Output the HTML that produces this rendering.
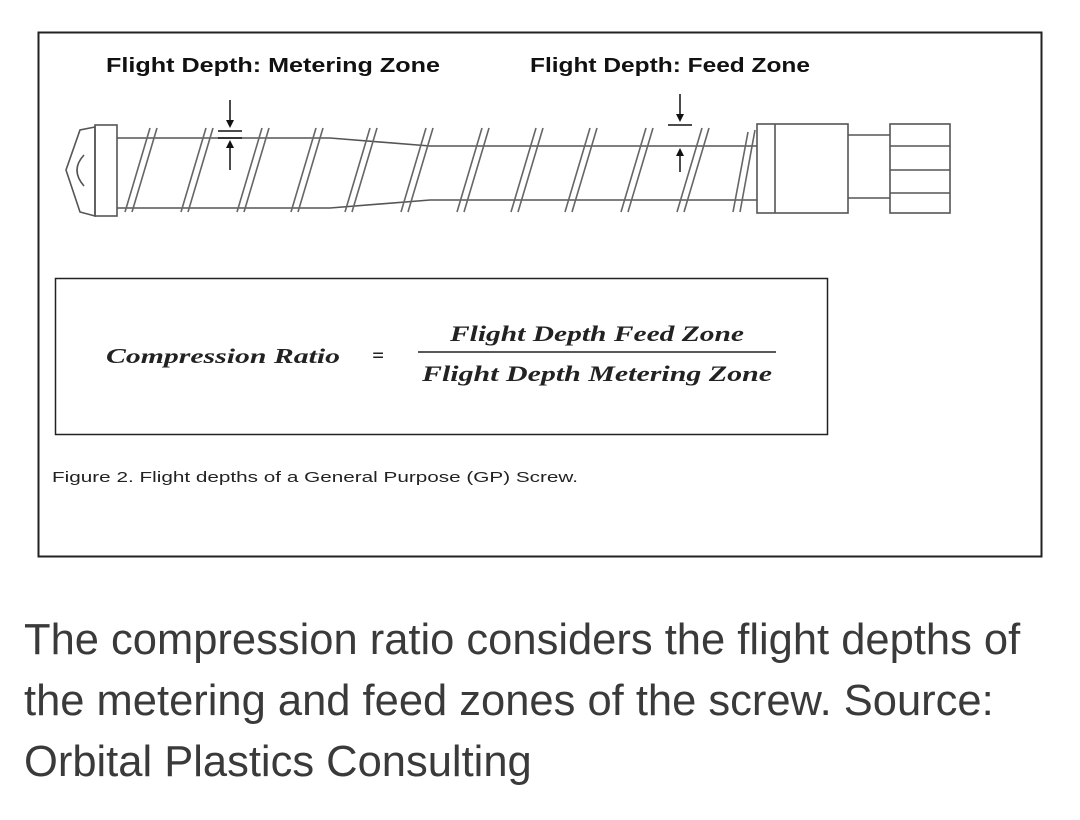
<!DOCTYPE html>
<html><head><meta charset="utf-8"><style>
body{margin:0;width:1080px;height:820px;background:#fff;overflow:hidden;position:relative;font-family:"Liberation Sans",sans-serif}
.cap{position:absolute;left:24px;top:610px;font-size:43.5px;line-height:61px;color:#3a3a3a;white-space:nowrap}
</style></head><body>
<svg width="1080" height="600" style="position:absolute;left:0;top:0" font-family="Liberation Sans, sans-serif">
<rect x="38.5" y="32.5" width="1003" height="524" fill="none" stroke="#222" stroke-width="2"/>
<text x="106" y="72" font-size="20" font-weight="bold" fill="#111" textLength="334" lengthAdjust="spacingAndGlyphs">Flight Depth: Metering Zone</text>
<text x="530" y="72" font-size="20" font-weight="bold" fill="#111" textLength="280" lengthAdjust="spacingAndGlyphs">Flight Depth: Feed Zone</text>
<g stroke="#555" stroke-width="1.6" fill="none">
<path d="M95 127 L80 130 L66 170 L80 212 L95 216 Z"/>
<path d="M84 155 Q70 170 84 186"/>
<rect x="95" y="125" width="22" height="91"/>
<path d="M117 138 L330 138 L430 146 L757 146"/>
<path d="M117 208 L330 208 L430 200 L757 200"/>
<g stroke="#666">
<path d="M150 128 L125 212 M157 128 L132 212"/>
<path d="M206 128 L181 212 M213 128 L188 212"/>
<path d="M262 128 L237 212 M269 128 L244 212"/>
<path d="M316 128 L291 212 M323 128 L298 212"/>
<path d="M370 128 L345 212 M377 128 L352 212"/>
<path d="M426 128 L401 212 M433 128 L408 212"/>
<path d="M482 128 L457 212 M489 128 L464 212"/>
<path d="M536 128 L511 212 M543 128 L518 212"/>
<path d="M590 128 L565 212 M597 128 L572 212"/>
<path d="M646 128 L621 212 M653 128 L628 212"/>
<path d="M702 128 L677 212 M709 128 L684 212"/>
<path d="M748 132 L733 212 M755 130 L740 212"/>
</g>
<rect x="757" y="124" width="91" height="89"/>
<line x1="775" y1="124" x2="775" y2="213"/>
<path d="M848 135 L890 135 M848 198 L890 198"/>
<rect x="890" y="124" width="60" height="89"/>
<path d="M890 146 L950 146 M890 170 L950 170 M890 193 L950 193"/>
</g>
<g stroke="#111" stroke-width="1.5">
<line x1="230" y1="100" x2="230" y2="126"/><line x1="218" y1="131" x2="242" y2="131"/>
<line x1="218" y1="138" x2="242" y2="138"/><line x1="230" y1="142" x2="230" y2="170"/>
<line x1="680" y1="94" x2="680" y2="120"/><line x1="668" y1="125" x2="692" y2="125"/>
<line x1="680" y1="150" x2="680" y2="172"/>
</g>
<g fill="#111">
<path d="M226 120 L234 120 L230 128Z"/><path d="M226 148 L234 148 L230 140Z"/>
<path d="M676 114 L684 114 L680 122Z"/><path d="M676 156 L684 156 L680 148Z"/>
</g>
<rect x="55.5" y="278.5" width="772" height="156" fill="none" stroke="#222" stroke-width="1.5"/>
<g font-family="Liberation Serif, serif" font-style="italic" font-weight="bold" fill="#222">
<text x="106" y="363" font-size="21" textLength="234" lengthAdjust="spacingAndGlyphs">Compression Ratio</text>
<text x="372" y="362" font-size="21">=</text>
<text x="450" y="341" font-size="22" textLength="294" lengthAdjust="spacingAndGlyphs">Flight Depth Feed Zone</text>
<line x1="418" y1="352" x2="776" y2="352" stroke="#222" stroke-width="1.5"/>
<text x="422" y="381" font-size="22" textLength="350" lengthAdjust="spacingAndGlyphs">Flight Depth Metering Zone</text>
</g>
<text x="52" y="482" font-size="15" fill="#222" textLength="526" lengthAdjust="spacingAndGlyphs">Figure 2. Flight depths of a General Purpose (GP) Screw.</text>
</svg>
<div class="cap">The compression ratio considers the flight depths of<br>the metering and feed zones of the screw. Source:<br>Orbital Plastics Consulting</div>
</body></html>
